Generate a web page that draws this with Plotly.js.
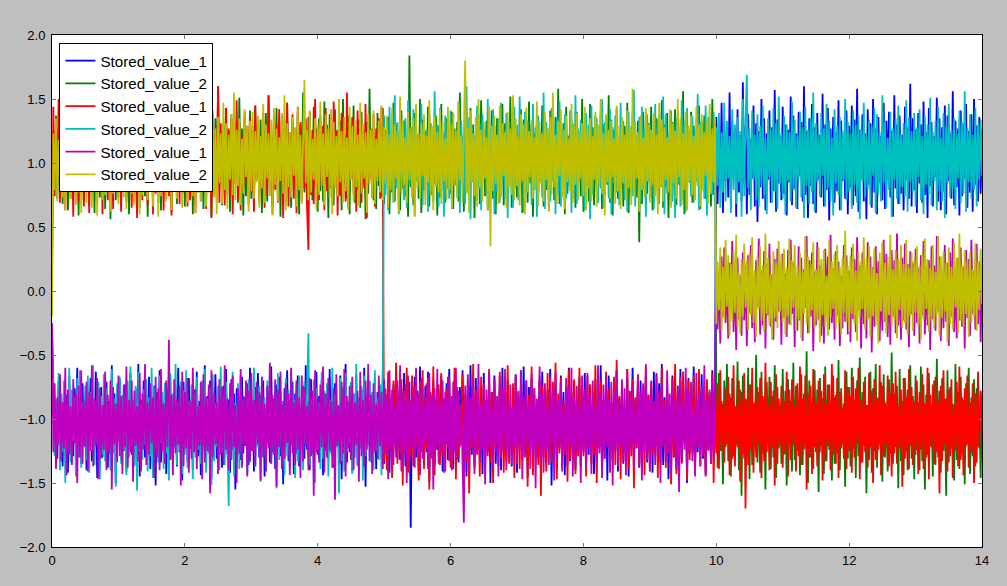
<!DOCTYPE html>
<html>
<head>
<meta charset="utf-8">
<script src="https://cdn.plot.ly/plotly-3.0.1.min.js"></script>
<style>html,body{margin:0;padding:0;background:#bfbfbf;}#chart{width:1007px;height:586px;}</style>
</head>
<body>
<div id="chart"></div>
<script>
// sample step of the recorded signals (time units)
const sampleStep = 0.02;

const seriesNames = ["Stored_value_1", "Stored_value_2", "Stored_value_1", "Stored_value_2", "Stored_value_1", "Stored_value_2"];

const blueValues = [
-.3,-.78,-1.2,-.85,-1.31,-.7,-1.15,-.92,-1.37,-.74,-1.24,-.81,-1.42,-.66,-1.18,-.89,-1.29,-.76,-1.11,-.6,-1.27,-.84,-1.35,-.72,-1.21,-.95,-1.4,-.79,-1.16,-.68,-1.33,-.87,-1.23,-.63,-1.46,-.82,-1.13,-.75,-1.3,-.91,-1.19,-.71,-1.38,-.86,-1.26,-.58,-1.22,-.8,-1.5,-.77,
-1.17,-.69,-1.32,-.88,-1.25,-.73,-1.41,-.83,-1.12,-.64,-1.28,-.9,-1.36,-.76,-1.2,-.57,-1.45,-.85,-1.14,-.7,-1.3,-.81,-1.24,-.67,-1.39,-.93,-1.18,-.74,-1.52,-.79,-1.22,-.62,-1.34,-.87,-1.27,-.72,-1.43,-.8,-1.16,-.66,-1.31,-.89,-1.21,-.75,-1.37,-.6,-1.26,-.84,-1.48,-.71,
-1.19,-.83,-1.33,-.68,-1.23,-.91,-1.4,-.77,-1.15,-.63,-1.29,-.86,-1.44,-.73,-1.2,-.58,-1.35,-.82,-1.26,-.7,-1.47,-.88,-1.17,-.65,-1.31,-.79,-1.22,-.94,-1.38,-.74,-1.13,-.61,-1.28,-.85,-1.42,-.69,-1.24,-.8,-1.55,-.76,-1.18,-.9,-1.32,-.67,-1.27,-.83,-1.21,-.72,-1.36,-.6,
-1.25,-.87,-1.41,-.75,-1.16,-.64,-1.3,-.81,-1.23,-.7,-1.45,-.92,-1.19,-.78,-1.34,-.59,-1.26,-.84,-1.39,-.73,-1.14,-.67,-1.29,-.89,-1.51,-.76,-1.22,-.62,-1.33,-.85,-1.2,-.71,-1.43,-.8,-1.27,-.66,-1.37,-.93,-1.17,-.74,-1.31,-.58,-1.24,-.86,-1.4,-.69,-1.21,-.79,-1.35,-.63,
-1.28,-.82,-1.18,-.7,-1.44,-.88,-1.25,-.75,-1.32,-.61,-1.2,-.84,-1.38,-.72,-1.15,-.9,-1.3,-.66,-1.47,-.78,-1.23,-.57,-1.34,-.86,-1.26,-.73,-1.41,-.8,-1.19,-.65,-1.36,-.91,-1.22,-.77,-1.29,-.6,-1.53,-.83,-1.17,-.71,-1.33,-.87,-1.24,-.68,-1.39,-.79,-1.21,-.74,-1.3,-.62,
-1.35,-.8,-1.2,-.69,-1.42,-.85,-1.27,-.73,-1.16,-.6,-1.31,-.88,-1.32,-.76,-1.23,-.64,-1.37,-.82,-1.25,-.71,-1.85,-.9,-1.18,-.67,-1.3,-.78,-1.4,-.59,-1.22,-.86,-1.33,-.74,-1.26,-.63,-1.49,-.81,-1.19,-.7,-1.36,-.92,-1.24,-.77,-1.29,-.66,-1.41,-.84,-1.15,-.72,-1.32,-.61,
-1.27,-.83,-1.39,-.7,-1.21,-.89,-1.34,-.75,-1.17,-.62,-1.3,-.86,-1.45,-.73,-1.2,-.58,-1.28,-.8,-1.38,-.68,-1.23,-.91,-1.16,-.76,-1.43,-.64,-1.31,-.85,-1.25,-.71,-1.5,-.79,-1.19,-.66,-1.35,-.88,-1.22,-.74,-1.4,-.6,-1.26,-.82,-1.33,-.69,-1.18,-.9,-1.37,-.77,-1.24,-.65,
-1.42,-.84,-1.2,-.72,-1.32,-.59,-1.27,-.87,-1.46,-.75,-1.15,-.68,-1.36,-.81,-1.24,-.93,-1.3,-.7,-1.41,-.63,-1.19,-.86,-1.34,-.77,-1.26,-.61,-1.52,-.83,-1.21,-.72,-1.38,-.89,-1.23,-.66,-1.29,-.79,-1.44,-.74,-1.17,-.6,-1.33,-.85,-1.25,-.71,-1.4,-.88,-1.2,-.67,-1.35,-.78,
-1.22,-.64,-1.39,-.82,-1.28,-.73,-1.16,-.9,-1.43,-.69,-1.3,-.8,-1.21,-.58,-1.37,-.86,-1.25,-.75,-1.48,-.66,-1.18,-.87,-1.32,-.71,-1.24,-.62,-1.41,-.84,-1.2,-.77,-1.35,-.92,-1.27,-.68,-1.45,-.79,-1.19,-.6,-1.31,-.85,-1.23,-.74,-1.38,-.7,-1.26,-.89,-1.17,-.65,-1.34,-.81,
-1.29,-.76,-1.42,-.63,-1.21,-.88,-1.33,-.72,-1.18,-.57,-1.36,-.83,-1.25,-.7,-1.47,-.9,-1.2,-.66,-1.3,-.8,-1.4,-.74,-1.23,-.61,-1.34,-.87,-1.16,-.77,-1.5,-.68,-1.27,-.84,-1.22,-.59,-1.38,-.91,-1.26,-.73,-1.19,-.65,-1.31,-.86,-1.44,-.71,-1.24,-.79,-1.35,-.62,-1.21,-.85,
1.36,.68,1.24,.8,1.47,.61,1.3,.86,1.2,.73,1.55,.65,1.33,.9,1.27,.58,1.42,.77,1.22,.7,1.63,.83,1.29,.6,1.38,.75,1.19,.88,1.45,.66,1.31,.54,1.25,.81,1.5,.72,1.35,.63,1.23,.87,1.41,.69,1.28,.78,1.57,.62,1.34,.84,1.21,.71,
1.44,.76,1.3,.59,1.26,.85,1.52,.67,1.37,.8,1.23,.64,1.4,.9,1.32,.7,1.6,.75,1.25,.57,1.35,.82,1.46,.68,1.28,.61,1.39,.87,1.22,.73,1.54,.66,1.3,.79,1.43,.55,1.27,.84,1.36,.69,1.24,.78,1.49,.63,1.33,.86,1.2,.72,1.41,.6,
1.29,.81,1.45,.67,1.34,.74,1.58,.62,1.26,.88,1.38,.7,1.23,.56,1.42,.83,1.31,.65,1.5,.77,1.27,.6,1.36,.85,1.21,.71,1.47,.64,1.33,.9,1.4,.73,1.25,.58,1.53,.8,1.3,.68,1.37,.76,1.22,.63,1.44,.87,1.28,.72,1.62,.66,1.35,.79,
1.26,.61,1.39,.84,1.3,.69,1.48,.75,1.24,.57,1.43,.82,1.32,.66,1.21,.89,1.51,.7,1.35,.63,1.28,.78,1.45,.6,1.37,.86,1.23,.72,1.56,.67,1.33,.81,1.27,.59,1.41,.74,1.3,.88,1.46,.65,1.25,.77,1.38,.62,1.5,.83,1.29,.7,1.36,.76,
1.25];

const greenValues = [
.2,1.25,.8,1.37,.72,1.19,.86,1.42,.68,1.28,.77,1.33,.63,1.21,.9,1.46,.74,1.16,.83,1.3,.59,1.39,.81,1.24,.7,1.52,.87,1.2,.66,1.35,.79,1.27,.61,1.43,.85,1.18,.73,1.31,.89,1.48,.64,1.23,.78,1.36,.56,1.29,.84,1.41,.71,1.22,
.88,1.34,.67,1.26,.8,1.45,.73,1.17,.6,1.38,.86,1.3,.7,1.5,.78,1.21,.65,1.33,.91,1.25,.74,1.44,.58,1.28,.83,1.19,.69,1.4,.87,1.32,.76,1.56,.63,1.23,.81,1.36,.72,1.27,.9,1.47,.62,1.2,.79,1.35,.68,1.29,.85,1.42,.75,1.18,
.66,1.31,.84,1.24,.71,1.49,.6,1.37,.82,1.22,.77,1.4,.89,1.28,.64,1.33,.73,1.19,.86,1.46,.57,1.26,.8,1.35,.7,1.6,.83,1.21,.67,1.3,.92,1.43,.75,1.25,.62,1.38,.78,1.17,.88,1.32,.69,1.51,.81,1.27,.59,1.36,.74,1.23,.85,1.41,
.72,1.29,.63,1.45,.87,1.2,.76,1.34,.61,1.26,.83,1.39,.7,1.53,.79,1.22,.66,1.31,.9,1.43,.74,1.18,.58,1.37,.84,1.28,.69,1.47,.81,1.24,.65,1.33,.88,1.21,.73,1.4,.6,1.3,.85,1.55,.77,1.25,.68,1.36,.82,1.19,.71,1.44,.89,1.27,
.62,1.35,.78,1.23,.7,1.48,.86,1.3,.57,1.38,.8,1.2,.67,1.42,.91,1.26,.75,1.33,.63,1.5,.84,1.22,.72,1.37,.6,1.29,.87,1.45,.69,1.18,.79,1.34,.65,1.4,.83,1.24,.56,1.32,.76,1.58,.88,1.27,.71,1.21,.64,1.39,.82,1.31,.73,1.43,
.68,1.26,.85,1.36,.6,1.2,.77,1.47,.7,1.3,.89,1.24,.63,1.41,.8,1.33,.74,1.19,.58,1.84,.81,1.28,.67,1.39,.86,1.22,.72,1.5,.61,1.34,.79,1.25,.9,1.44,.66,1.31,.75,1.21,.84,1.37,.59,1.29,.73,1.46,.87,1.23,.69,1.35,.8,1.18,
.76,1.4,.64,1.27,.83,1.32,.7,1.55,.88,1.21,.62,1.36,.78,1.25,.71,1.43,.85,1.3,.57,1.2,.81,1.38,.68,1.49,.9,1.26,.74,1.33,.63,1.22,.86,1.41,.72,1.29,.6,1.35,.79,1.18,.84,1.46,.67,1.31,.75,1.24,.89,1.52,.65,1.37,.8,1.28,
.73,1.2,.87,1.42,.61,1.34,.77,1.26,.69,1.48,.84,1.3,.58,1.23,.82,1.39,.75,1.19,.9,1.45,.66,1.33,.79,1.27,.63,1.41,.86,1.22,.71,1.36,.8,1.58,.68,1.25,.88,1.31,.6,1.44,.76,1.21,.83,1.35,.72,1.29,.65,1.4,.89,1.24,.74,1.5,
.62,1.32,.81,1.21,.7,1.46,.85,1.28,.67,1.37,.78,1.23,.91,1.41,.64,1.3,.75,1.19,.83,1.53,.69,1.34,.59,1.26,.87,1.43,.72,1.2,.8,1.36,.66,1.29,.84,1.47,.61,1.24,.77,1.38,.89,1.22,.73,1.33,.38,1.27,.68,1.4,.82,1.18,.76,1.31,
.86,1.44,.63,1.25,.79,1.35,.7,1.21,.88,1.49,.65,1.3,.81,1.39,.57,1.23,.74,1.32,.9,1.42,.67,1.27,.83,1.2,.71,1.56,.6,1.34,.78,1.26,.85,1.4,.69,1.29,.76,1.22,.92,1.45,.64,1.33,.8,1.37,.72,1.24,.87,1.31,.66,1.5,.75,1.28,
-.72,-1.38,-.64,-1.25,-.86,-1.51,-.7,-1.22,-.57,-1.33,-.8,-1.45,-.68,-1.29,-.9,-1.2,-.55,-1.4,-.77,-1.6,-.66,-1.31,-.84,-1.24,-.6,-1.47,-.73,-1.36,-.88,-1.21,-.5,-1.34,-.79,-1.42,-.63,-1.27,-.85,-1.55,-.71,-1.19,-.67,-1.39,-.82,-1.3,-.58,-1.46,-.75,-1.23,-.89,-1.35,
-.61,-1.28,-.78,-1.52,-.69,-1.2,-.86,-1.41,-.56,-1.32,-.74,-1.25,-.92,-1.44,-.65,-1.36,-.8,-1.22,-.47,-1.5,-.7,-1.3,-.87,-1.39,-.62,-1.26,-.77,-1.57,-.68,-1.21,-.84,-1.43,-.59,-1.33,-.73,-1.24,-.9,-1.48,-.66,-1.35,-.81,-1.27,-.54,-1.4,-.76,-1.2,-.88,-1.53,-.63,-1.31,
-.75,-1.37,-.6,-1.23,-.85,-1.46,-.7,-1.29,-.52,-1.34,-.79,-1.21,-.67,-1.58,-.89,-1.32,-.63,-1.42,-.76,-1.25,-.57,-1.38,-.83,-1.2,-.71,-1.49,-.65,-1.3,-.9,-1.41,-.69,-1.27,-.48,-1.35,-.8,-1.22,-.74,-1.54,-.61,-1.33,-.86,-1.44,-.68,-1.26,-.77,-1.39,-.58,-1.31,-.82,-1.47,
-.66,-1.24,-.87,-1.4,-.59,-1.33,-.73,-1.55,-.81,-1.28,-.64,-1.21,-.9,-1.45,-.7,-1.36,-.53,-1.3,-.78,-1.42,-.68,-1.25,-.84,-1.6,-.62,-1.34,-.75,-1.23,-.88,-1.48,-.57,-1.32,-.79,-1.39,-.67,-1.27,-.85,-1.51,-.72,-1.2,-.6,-1.43,-.83,-1.29,-.69,-1.37,-.76,-1.22,-.9,-1.46,
-.82];

const redValues = [
.1,1.44,.74,1.3,.86,1.5,.69,1.22,.9,1.36,.63,1.27,.81,1.41,.72,1.19,.58,1.34,.88,1.25,.7,1.47,.79,1.21,.66,1.38,.84,1.28,.61,1.43,.76,1.2,.89,1.33,.68,1.55,.8,1.24,.6,1.37,.85,1.29,.71,1.46,.77,1.18,.64,1.35,.87,1.26,
.73,1.4,.62,1.31,.83,1.23,.7,1.52,.9,1.27,.65,1.36,.78,1.2,.57,1.44,.84,1.3,.71,1.38,.8,1.25,.67,1.57,.88,1.33,.6,1.22,.76,1.42,.69,1.29,.86,1.35,.63,1.19,.82,1.48,.74,1.26,.59,1.39,.79,1.24,.92,1.45,.68,1.32,.77,1.21,
.85,1.37,.66,1.28,.72,1.5,.8,1.23,.61,1.34,.89,1.41,.7,1.2,.78,1.3,.64,1.46,.83,1.26,.58,1.38,.75,1.22,.87,1.6,.69,1.31,.81,1.19,.67,1.43,.9,1.27,.73,1.35,.6,1.24,.84,1.49,.71,1.32,.63,1.21,.79,1.4,.86,1.29,.68,1.36,
.77,1.25,.62,1.45,.88,1.33,.7,1.2,.82,1.39,.65,1.28,.74,1.53,.9,1.22,.6,1.36,.79,1.3,.69,1.42,.85,1.24,.57,1.34,.76,1.47,.66,1.21,.83,1.38,.72,1.27,.61,1.44,.87,1.32,.7,1.19,.8,1.35,.64,.32,1.4,.75,1.26,.68,1.5,.84,
1.23,.71,1.37,.86,1.29,.63,1.43,.78,1.2,.9,1.34,.67,1.48,.81,1.25,.59,1.31,.74,1.39,.85,1.22,.7,1.55,.65,1.28,.88,1.36,.76,1.19,.62,1.41,.83,1.3,.69,1.24,.8,1.46,.57,1.33,.87,1.21,.73,1.38,.66,1.27,.91,1.35,.72,1.44,.79,
-1.33,-.76,-1.4,-.63,-1.24,-.87,-1.46,-.7,-1.19,-.56,-1.35,-.81,-1.27,-.69,-1.52,-.78,-1.21,-.6,-1.42,-.86,-1.29,-.66,-1.37,-.74,-1.2,-.9,-1.48,-.71,-1.26,-.62,-1.39,-.83,-1.23,-.68,-1.55,-.79,-1.31,-.59,-1.44,-.85,-1.18,-.73,-1.36,-.64,-1.28,-.88,-1.41,-.77,-1.22,-.67,
-1.38,-.82,-1.25,-.6,-1.47,-.75,-1.3,-.89,-1.2,-.65,-1.43,-.8,-1.33,-.7,-1.58,-.84,-1.23,-.57,-1.36,-.77,-1.28,-.91,-1.45,-.67,-1.19,-.73,-1.4,-.86,-1.26,-.61,-1.34,-.79,-1.5,-.69,-1.22,-.87,-1.37,-.63,-1.29,-.76,-1.42,-.83,-1.21,-.58,-1.35,-.9,-1.27,-.72,-1.46,-.66,
-1.24,-.78,-1.39,-.62,-1.31,-.85,-1.2,-.7,-1.53,-.81,-1.28,-.59,-1.44,-.76,-1.22,-.88,-1.36,-.67,-1.6,-.74,-1.3,-.83,-1.41,-.64,-1.25,-.9,-1.34,-.71,-1.19,-.56,-1.47,-.8,-1.27,-.68,-1.38,-.86,-1.23,-.75,-1.49,-.62,-1.32,-.79,-1.21,-.69,-1.43,-.87,-1.29,-.6,-1.37,-.77,
-1.26,-.84,-1.45,-.66,-1.2,-.73,-1.35,-.89,-1.28,-.58,-1.5,-.8,-1.23,-.7,-1.4,-.85,-1.31,-.63,-1.19,-.77,-1.42,-.88,-1.27,-.67,-1.36,-.54,-1.24,-.82,-1.47,-.72,-1.33,-.9,-1.21,-.61,-1.39,-.78,-1.29,-.69,-1.54,-.83,-1.22,-.65,-1.37,-.86,-1.3,-.74,-1.44,-.59,-1.25,-.81,
-1.41,-.71,-1.28,-.87,-1.22,-.64,-1.46,-.79,-1.34,-.6,-1.2,-.85,-1.38,-.73,-1.27,-.9,-1.51,-.68,-1.3,-.57,-1.43,-.82,-1.24,-.75,-1.35,-.63,-1.19,-.88,-1.48,-.7,-1.32,-.78,-1.26,-.66,-1.4,-.84,-1.21,-.61,-1.37,-.89,-1.29,-.74,-1.45,-.69,-1.23,-.8,-1.33,-.65,-1.5,-.86,
-1.27,-.72,-1.39,-.62,-1.25,-.88,-1.34,-.76,-1.2,-.67,-1.44,-.83,-1.31,-.58,-1.37,-.9,-1.22,-.7,-1.49,-.79,-1.28,-.64,-1.7,-.85,-1.36,-.73,-1.24,-.6,-1.42,-.87,-1.3,-.75,-1.19,-.68,-1.46,-.82,-1.33,-.56,-1.26,-.89,-1.4,-.71,-1.23,-.78,-1.52,-.65,-1.35,-.84,-1.21,-.74,
-1.38,-.86,-1.27,-.63,-1.45,-.77,-1.32,-.69,-1.2,-.9,-1.41,-.72,-1.29,-.59,-1.36,-.84,-1.24,-.66,-1.55,-.8,-1.3,-.74,-1.43,-.61,-1.22,-.87,-1.37,-.7,-1.26,-.78,-1.48,-.65,-1.33,-.88,-1.21,-.73,-1.4,-.57,-1.28,-.83,-1.35,-.68,-1.46,-.79,-1.23,-.91,-1.31,-.62,-1.39,-.75,
-1.25,-.82,-1.42,-.67,-1.3,-.76,-1.19,-.6,-1.47,-.85,-1.34,-.71,-1.26,-.89,-1.38,-.64,-1.22,-.78,-1.5,-.69,-1.32,-.84,-1.24,-.58,-1.44,-.74,-1.29,-.87,-1.2,-.66,-1.37,-.8,-1.45,-.72,-1.27,-.63,-1.35,-.9,-1.23,-.77,-1.53,-.68,-1.31,-.83,-1.4,-.61,-1.21,-.75,-1.36,-.86,
-1.28,-.7,-1.43,-.79,-1.24,-.65,-1.39,-.88,-1.3,-.6,-1.47,-.81,-1.22,-.73,-1.35,-.67,-1.26,-.86,-1.58,-.74,-1.33,-.62,-1.2,-.84,-1.41,-.77,-1.29,-.69,-1.46,-.89,-1.25,-.71,-1.37,-.59,-1.32,-.83,-1.44,-.76,-1.21,-.66,-1.38,-.87,-1.27,-.72,-1.5,-.8,-1.34,-.63,-1.23,-.78,
-.9];

const cyanValues = [
-.4,-.73,-1.29,-.85,-1.2,-.64,-1.4,-.8,-1.26,-.7,-1.5,-.89,-1.23,-.6,-1.34,-.77,-1.17,-.83,-1.45,-.68,-1.3,-.62,-1.38,-.87,-1.21,-.74,-1.32,-.66,-1.42,-.79,-1.25,-.58,-1.36,-.9,-1.19,-.71,-1.47,-.82,-1.28,-.65,-1.33,-.76,-1.22,-.88,-1.4,-.61,-1.27,-.84,-1.53,-.72,
-1.18,-.67,-1.35,-.81,-1.24,-.9,-1.44,-.7,-1.3,-.59,-1.21,-.85,-1.37,-.74,-1.56,-.63,-1.26,-.88,-1.32,-.77,-1.2,-.69,-1.41,-.83,-1.29,-.6,-1.46,-.75,-1.23,-.86,-1.34,-.66,-1.19,-.79,-1.39,-.72,-1.27,-.92,-1.48,-.64,-1.31,-.8,-1.22,-.57,-1.36,-.87,-1.25,-.71,-1.43,-.78,
-1.28,-.62,-1.38,-.86,-1.21,-.73,-1.47,-.8,-1.3,-.67,-1.24,-.9,-1.35,-.7,-1.19,-.61,-1.42,-.84,-1.27,-.76,-1.52,-.65,-1.33,-.88,-1.22,-.74,-1.4,-.59,-1.26,-.82,-1.36,-.71,-1.2,-1.68,-.79,-1.31,-.63,-1.45,-.87,-1.23,-.72,-1.39,-.66,-1.29,-.85,-1.18,-.77,-1.43,-.69,-1.34,
-.81,-1.25,-.6,-1.37,-.89,-1.22,-.74,-1.49,-.67,-1.3,-.83,-1.41,-.7,-1.2,-.58,-1.35,-.86,-1.27,-.75,-1.54,-.64,-1.32,-.8,-1.23,-.91,-1.44,-.68,-1.29,-.77,-1.38,-.62,-1.21,-.85,-1.46,-.73,-1.33,-.66,-1.26,-.88,-1.4,-.71,-1.19,-.79,-.33,-1.36,-.84,-1.28,-.69,-1.5,-.76,
-1.24,-.87,-1.39,-.63,-1.31,-.78,-1.2,-.72,-1.45,-.85,-1.27,-.6,-1.35,-.81,-1.22,-.9,-1.58,-.68,-1.33,-.75,-1.41,-.64,-1.26,-.86,-1.19,-.71,-1.43,-.8,-1.3,-.57,-1.37,-.83,-1.23,-.74,-1.48,-.66,-1.29,-.89,-1.21,-.7,-1.34,-.79,-1.4,-.62,-1.25,-.84,-1.32,-.73,-1.44,-.67,
1.37,.75,1.25,.63,1.44,.86,1.21,.69,1.53,.8,1.32,.6,1.4,.88,1.23,.71,1.35,.65,1.49,.83,1.28,.73,1.42,.59,1.31,.85,1.19,.76,1.46,.67,1.34,.9,1.26,.62,1.39,.78,1.22,.7,1.56,.84,1.3,.66,1.43,.79,1.24,.58,1.37,.87,1.27,.72,
1.41,.64,1.29,.82,1.2,.74,1.48,.61,1.33,.89,1.25,.68,1.6,.77,1.36,.56,1.3,.85,1.22,.7,1.45,.8,1.31,.63,1.38,.91,1.24,.75,1.5,.66,1.27,.83,1.42,.6,1.21,.78,1.35,.69,1.47,.86,1.26,.72,1.39,.57,1.32,.88,1.23,.65,1.44,.81,
1.3,.71,1.52,.84,1.25,.62,1.4,.77,1.33,.9,1.21,.67,1.46,.79,1.28,.58,1.37,.86,1.24,.73,1.55,.64,1.32,.81,1.2,.7,1.43,.87,1.29,.6,1.36,.76,1.48,.66,1.26,.89,1.38,.72,1.22,.83,1.41,.61,1.31,.78,1.53,.68,1.27,.85,1.34,.74,
1.23,.63,1.39,.82,1.3,.56,1.45,.75,1.26,.88,1.35,.69,1.21,.8,1.5,.65,1.32,.9,1.24,.72,1.42,.6,1.28,.84,1.37,.77,1.19,.67,1.47,.86,1.33,.71,1.25,.62,1.4,.83,1.29,.74,1.57,.66,1.22,.89,1.36,.7,1.44,.79,1.27,.58,1.38,.85,
1.31,.73,1.2,.64,1.46,.87,1.34,.68,1.26,.81,1.52,.6,1.38,.76,1.23,.9,1.41,.7,1.29,.57,1.35,.84,1.24,.66,1.49,.78,1.3,.62,1.43,.88,1.21,.74,1.37,.69,1.27,.85,1.54,.63,1.32,.8,1.25,.72,1.45,.59,1.36,.86,1.22,.75,1.4,.67,
1.28,.82,1.39,.65,1.24,.77,1.47,.7,1.33,.88,1.21,.61,1.42,.79,1.3,.68,1.36,.85,1.25,.58,1.5,.74,1.32,1.69,.8,1.27,.63,1.41,.87,1.22,.71,1.38,.66,1.29,.83,1.45,.75,1.2,.6,1.35,.89,1.26,.69,1.43,.78,1.31,.64,1.52,.84,1.23,
.72,1.37,.6,1.3,.86,1.24,.7,1.48,.79,1.34,.65,1.21,.88,1.4,.73,1.28,.57,1.44,.82,1.26,.68,1.35,.77,1.55,.62,1.31,.85,1.22,.74,1.39,.9,1.27,.66,1.46,.8,1.33,.7,1.2,.59,1.42,.84,1.29,.75,1.36,.63,1.25,.87,1.5,.71,1.32,
.78,1.23,.64,1.41,.83,1.3,.69,1.37,.56,1.26,.86,1.47,.73,1.21,.8,1.34,.67,1.29,.9,1.43,.61,1.38,.76,1.24,.7,1.53,.84,1.32,.65,1.2,.79,1.4,.58,1.27,.87,1.35,.72,1.45,.68,1.22,.81,1.31,.74,1.49,.62,1.36,.85,1.25,.77,1.39,
.66,1.28,.89,1.42,.71,1.21,.6,1.37,.83,1.3,.75,1.51,.67,1.24,.86,1.33,.63,1.44,.78,1.2,.7,1.39,.57,1.29,.84,1.46,.73,1.26,.8,1.35,.64,1.23,.88,1.41,.69,1.32,.76,1.56,.62,1.27,.85,1.38,.72,1.22,.79,1.43,.66,1.3,.87,1.34,
.9];

const magentaValues = [
-.25,-1.26,-.72,-1.39,-.83,-1.2,-.65,-1.33,-.87,-1.23,-.6,-1.44,-.77,-1.28,-.9,-1.36,-.69,-1.19,-.8,-1.5,-.74,-1.3,-.62,-1.35,-.86,-1.22,-.71,-1.41,-.79,-1.25,-.58,-1.37,-.84,-1.21,-.68,-1.47,-.76,-1.31,-.89,-1.24,-.63,-1.4,-.81,-1.27,-.7,-1.55,-.75,-1.2,-.88,-1.34,
-.66,-1.29,-.82,-1.43,-.73,-1.22,-.59,-1.38,-.85,-1.26,-.7,-1.49,-.78,-1.21,-.9,-1.33,-.64,-1.41,-.8,-1.24,-.57,-1.36,-.87,-1.28,-.72,-1.19,-.83,-1.46,-.67,-1.3,-.76,-1.4,-.61,-1.25,-.88,-1.35,-.7,-1.22,-.38,-1.32,-.81,-1.44,-.69,-1.27,-.84,-1.2,-.74,-1.52,-.63,-1.37,
-.79,-1.23,-.68,-1.42,-.86,-1.31,-.6,-1.26,-.77,-1.39,-.9,-1.21,-.71,-1.47,-.65,-1.34,-.83,-1.25,-.73,-1.58,-.62,-1.3,-.8,-1.2,-.87,-1.43,-.69,-1.28,-.75,-1.36,-.58,-1.24,-.84,-1.4,-.72,-1.32,-.66,-1.22,-.89,-1.5,-.76,-1.27,-.61,-1.38,-.82,-1.21,-.7,-1.45,-.78,-1.33,
-.64,-1.25,-.85,-1.37,-.71,-1.2,-.79,-1.48,-.67,-1.3,-.88,-1.41,-.74,-1.23,-.56,-1.35,-.81,-1.28,-.69,-1.53,-.77,-1.22,-.63,-1.39,-.86,-1.31,-.72,-1.19,-.8,-1.44,-.6,-1.27,-.87,-1.36,-.7,-1.24,-.83,-1.46,-.66,-1.33,-.75,-1.21,-.9,-1.4,-.68,-1.29,-.78,-1.6,-.62,-1.26,
-.84,-1.34,-.73,-1.22,-.59,-1.42,-.8,-1.3,-.68,-1.25,-.86,-1.38,-.76,-1.63,-.65,-1.21,-.89,-1.35,-.71,-1.27,-.61,-1.45,-.82,-1.23,-.74,-1.32,-.67,-1.4,-.87,-1.2,-.78,-1.49,-.63,-1.29,-.85,-1.37,-.7,-1.24,-.57,-1.33,-.81,-1.43,-.72,-1.26,-.88,-1.31,-.66,-1.21,-.79,-1.39,
-.69,-1.28,-.84,-1.47,-.62,-1.23,-.77,-1.36,-.9,-1.3,-.7,-1.2,-.58,-1.41,-.83,-1.27,-.73,-1.5,-.66,-1.34,-.86,-1.22,-.75,-1.38,-.6,-1.25,-.8,-1.44,-.68,-1.31,-.88,-1.21,-.72,-1.39,-.64,-1.29,-.82,-1.55,-.76,-1.24,-.61,-1.35,-.87,-1.26,-.7,-1.42,-.79,-1.2,-.67,-1.33,
-.85,-1.4,-.71,-1.25,-.6,-1.32,-.78,-1.22,-.88,-1.46,-1.81,-.74,-1.3,-.65,-1.37,-.83,-1.21,-.69,-1.43,-.8,-1.27,-.57,-1.34,-.86,-1.24,-.72,-1.51,-.77,-1.29,-.63,-1.2,-.89,-1.38,-.7,-1.26,-.82,-1.45,-.66,-1.31,-.75,-1.23,-.61,-1.4,-.84,-1.28,-.73,-1.36,-.9,-1.21,-.68,
-1.35,-.79,-1.24,-.62,-1.47,-.81,-1.3,-.7,-1.22,-.87,-1.39,-.65,-1.27,-.76,-1.54,-.84,-1.21,-.59,-1.33,-.8,-1.42,-.72,-1.25,-.88,-1.36,-.67,-1.2,-.78,-1.48,-.63,-1.31,-.85,-1.23,-.71,-1.41,-.9,-1.28,-.68,-1.37,-.75,-1.21,-.6,-1.45,-.83,-1.32,-.74,-1.26,-.86,-1.5,-.66,
-1.29,-.77,-1.38,-.64,-1.23,-.82,-1.43,-.7,-1.2,-.89,-1.34,-.58,-1.27,-.8,-1.46,-.73,-1.31,-.66,-1.22,-.85,-1.4,-.71,-1.52,-.78,-1.25,-.62,-1.37,-.87,-1.21,-.69,-1.33,-.76,-1.44,-.61,-1.28,-.83,-1.24,-.74,-1.39,-.9,-1.2,-.67,-1.35,-.79,-1.48,-.72,-1.26,-.57,-1.32,-.84,
-1.41,-.7,-1.23,-.86,-1.36,-.65,-1.29,-.78,-1.5,-.73,-1.21,-.88,-1.34,-.62,-1.27,-.8,-1.43,-.69,-1.2,-.84,-1.38,-.75,-1.57,-.67,-1.3,-.87,-1.24,-.6,-1.4,-.79,-1.26,-.71,-1.33,-.9,-1.45,-.64,-1.22,-.82,-1.37,-.74,-1.28,-.58,-1.42,-.85,-1.25,-.77,-1.35,-.68,-1.31,-.83,
.23,-.3,.15,-.41,.27,-.2,.34,-.25,.1,-.37,.22,-.14,.39,-.32,.18,-.46,.26,-.22,.12,-.35,.3,-.23,.2,-.43,.28,-.17,.36,-.29,.08,-.4,.24,-.12,.41,-.34,.16,-.27,.31,-.45,.21,-.19,.37,-.28,.13,-.38,.25,-.24,.33,-.16,.19,-.42,
.29,-.21,.14,-.36,.32,-.26,.4,-.18,.22,-.44,.11,-.31,.35,-.23,.26,-.39,.17,-.13,.43,-.33,.24,-.2,.3,-.47,.15,-.27,.38,-.22,.2,-.35,.09,-.41,.33,-.16,.27,-.3,.44,-.25,.18,-.38,.31,-.19,.23,-.43,.12,-.29,.36,-.24,.28,-.34,
.16,-.4,.34,-.22,.25,-.32,.42,-.15,.2,-.45,.3,-.26,.13,-.37,.38,-.21,.27,-.48,.19,-.28,.35,-.17,.23,-.39,.1,-.31,.4,-.24,.29,-.36,.17,-.42,.32,-.2,.24,-.33,.45,-.27,.14,-.38,.26,-.23,.37,-.3,.21,-.44,.31,-.18,.22,-.35,
.33,-.25,.18,-.41,.28,-.19,.39,-.34,.12,-.27,.24,-.46,.35,-.22,.2,-.31,.43,-.16,.27,-.39,.15,-.29,.36,-.24,.22,-.43,.3,-.2,.41,-.32,.11,-.37,.26,-.23,.34,-.28,.19,-.45,.32,-.21,.25,-.35,.4,-.18,.16,-.3,.37,-.26,.23,-.4,
.1];

const oliveValues = [
-.2,1.23,.79,1.35,.7,1.18,.87,1.42,.73,1.27,.63,1.21,.89,1.38,.72,1.26,.82,1.47,.67,1.2,.77,1.31,.61,1.4,.84,1.24,.69,1.34,.86,1.17,.65,1.43,.78,1.25,.59,1.37,.83,1.22,.71,1.49,.75,1.3,.88,1.19,.62,1.39,.76,1.28,.85,1.45,
.68,1.29,.8,1.21,.73,1.41,.64,1.26,.9,1.36,.76,1.18,.67,1.44,.84,1.24,.6,1.33,.75,1.52,.87,1.22,.71,1.38,.79,1.27,.66,1.46,.82,1.2,.58,1.35,.74,1.29,.89,1.4,.7,1.23,.8,1.32,.63,1.48,.86,1.25,.72,1.37,.78,1.19,.65,1.43,
.83,1.28,.69,1.34,.88,1.21,.74,1.45,.61,1.3,.81,1.39,.7,1.24,.86,1.5,.66,1.32,.77,1.2,.9,1.41,.73,1.27,.6,1.36,.84,1.23,.68,1.47,.79,1.31,.64,1.22,.87,1.38,.75,1.55,.71,1.26,.82,1.35,.67,1.19,.76,1.42,.89,1.29,.62,1.33,
.78,1.4,.72,1.25,.85,1.37,.65,1.21,.8,1.46,.69,1.3,.88,1.23,.74,1.34,.59,1.43,.83,1.27,.7,1.2,.86,1.39,.76,1.53,.63,1.31,.81,1.24,.73,1.36,.9,1.28,.66,1.44,.79,1.22,.68,1.33,1.65,.84,1.26,.71,1.41,.77,1.19,.87,1.35,.64,
1.3,.75,1.48,.82,1.23,.67,1.38,.89,1.27,.72,1.42,.6,1.32,.8,1.21,.74,1.5,.85,1.25,.69,1.36,.78,1.2,.63,1.44,.87,1.29,.7,1.34,.81,1.22,.66,1.47,.76,1.31,.88,1.24,.61,1.39,.83,1.26,.73,1.41,.68,1.19,.86,1.33,.77,1.45,.71,
1.28,.84,1.37,.65,1.22,.79,1.43,.7,1.3,.88,1.25,.62,1.52,.76,1.34,.83,1.2,.69,1.4,.87,1.27,.73,1.35,.58,1.46,.8,1.23,.72,1.31,.9,1.38,.67,1.21,.85,1.49,.74,1.29,.63,1.36,.81,1.24,.77,1.42,.68,1.33,.86,1.19,.71,1.44,.79,
1.3,.64,1.39,.83,1.25,.72,1.47,.87,1.21,.69,1.34,1.8,.76,1.28,.61,1.41,.85,1.23,.74,1.36,.66,1.5,.8,1.26,.7,1.32,.88,1.2,.63,1.44,.35,1.29,.78,1.37,.84,1.22,.68,1.45,.73,1.31,.9,1.24,.65,1.4,.81,1.27,.75,1.53,.71,1.35,
.82,1.21,.67,1.38,.86,1.3,.6,1.43,.77,1.25,.89,1.34,.72,1.2,.79,1.48,.66,1.32,.84,1.23,.7,1.4,.87,1.27,.62,1.36,.75,1.55,.81,1.22,.68,1.33,.9,1.42,.73,1.26,.64,1.37,.85,1.19,.78,1.46,.69,1.29,.83,1.39,.71,1.24,.88,1.31,
.74,1.44,.63,1.28,.8,1.35,.7,1.21,.87,1.4,.66,1.3,.82,1.5,.76,1.23,.59,1.38,.85,1.26,.72,1.33,.89,1.19,.68,1.45,.78,1.29,.64,1.36,.84,1.22,.71,1.41,.8,1.27,.67,1.58,.75,1.32,.88,1.24,.62,1.37,.79,1.2,.73,1.43,.86,1.3,
.69,1.26,.83,1.39,.74,1.22,.6,1.47,.81,1.34,.7,1.28,.87,1.2,.77,1.42,.65,1.31,.84,1.25,.72,1.5,.89,1.35,.67,1.23,.79,1.4,.63,1.29,.86,1.37,.75,1.21,.71,1.44,.82,1.3,.66,1.38,.78,1.24,.9,1.33,.68,1.46,.76,1.27,.85,1.35,
-.26,.23,-.15,.34,-.31,.19,-.22,.4,-.12,.28,-.35,.21,-.24,.32,-.17,.44,-.28,.14,-.33,.25,-.2,.37,-.13,.24,-.3,.3,-.19,.42,-.25,.16,-.36,.27,-.14,.35,-.23,.2,-.32,.45,-.18,.26,-.27,.13,-.38,.31,-.21,.22,-.29,.39,-.16,.29,
-.24,.33,-.34,.18,-.2,.41,-.27,.24,-.13,.36,-.31,.2,-.22,.3,-.37,.15,-.18,.43,-.26,.27,-.33,.21,-.15,.38,-.29,.17,-.23,.34,-.4,.25,-.19,.32,-.28,.12,-.35,.4,-.21,.23,-.14,.29,-.3,.36,-.25,.19,-.34,.26,-.17,.47,-.24,.2,
-.32,.28,-.18,.37,-.26,.16,-.39,.31,-.21,.23,-.14,.42,-.3,.26,-.23,.35,-.36,.19,-.2,.33,-.27,.14,-.41,.3,-.16,.38,-.24,.22,-.33,.27,-.19,.44,-.28,.17,-.22,.32,-.37,.25,-.15,.36,-.29,.21,-.25,.4,-.34,.18,-.2,.3,-.31,.24,
-.17,.35,-.27,.2,-.38,.29,-.22,.41,-.14,.25,-.32,.18,-.24,.36,-.29,.15,-.19,.43,-.35,.27,-.21,.31,-.16,.22,-.4,.34,-.26,.19,-.3,.38,-.13,.26,-.33,.45,-.23,.2,-.28,.32,-.18,.24,-.36,.3,-.25,.17,-.2,.37,-.31,.23,-.15,.33,
-.1];

const xTickValues = [0, 2, 4, 6, 8, 10, 12, 14];
const yTickValues = [-2.0, -1.5, -1.0, -0.5, 0.0, 0.5, 1.0, 1.5, 2.0];

const allSeries = [blueValues, greenValues, redValues, cyanValues, magentaValues, oliveValues];
const lineColors = ["#0000ff", "#008000", "#ff0000", "#00bfbf", "#bf00bf", "#bfbf00"];

const traces = allSeries.map((vals, k) => ({
  type: "scatter",
  mode: "lines",
  name: seriesNames[k],
  x: vals.map((_, i) => i * sampleStep),
  y: vals,
  line: { color: lineColors[k], width: 1.8 },
  hoverinfo: "skip"
}));

const axisCommon = {
  showgrid: false,
  zeroline: false,
  showline: true,
  linecolor: "#000",
  linewidth: 1,
  mirror: "allticks",
  ticks: "inside",
  ticklen: 4,
  tickwidth: 1,
  tickcolor: "#777",
  tickfont: { family: "Liberation Sans, Arial, sans-serif", size: 13, color: "#000" }
};

const layout = {
  width: 1007,
  height: 586,
  paper_bgcolor: "#bfbfbf",
  plot_bgcolor: "#ffffff",
  margin: { l: 52, r: 25, t: 35, b: 39, pad: 0 },
  showlegend: true,
  xaxis: Object.assign({}, axisCommon, {
    range: [0, 14], tickmode: "array", tickvals: xTickValues,
    ticktext: xTickValues.map(v => String(v)), ticklabelstandoff: 1
  }),
  yaxis: Object.assign({}, axisCommon, {
    range: [-2, 2], tickmode: "array", tickvals: yTickValues,
    ticktext: yTickValues.map(v => v.toFixed(1).replace("-", "\u2212")), ticklabelstandoff: 3
  }),
  legend: {
    x: 0.008, y: 0.984, xanchor: "left", yanchor: "top",
    bgcolor: "#ffffff", bordercolor: "#000", borderwidth: 1,
    font: { family: "Liberation Sans, Arial, sans-serif", size: 15.2, color: "#000" },
    traceorder: "normal"
  }
};

Plotly.newPlot("chart", traces, layout, { staticPlot: true, displayModeBar: false });
</script>
</body>
</html>
